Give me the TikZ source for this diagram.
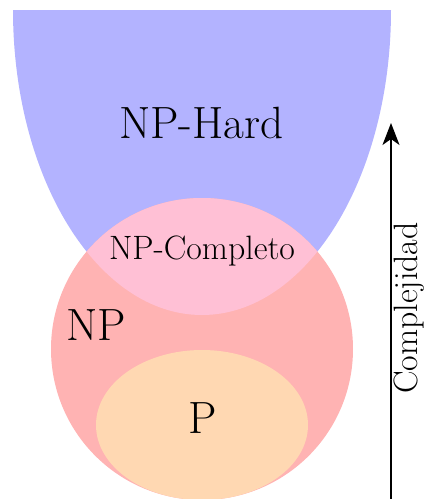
\documentclass[tikz,border=0pt]{standalone}
\usetikzlibrary{arrows.meta}
\definecolor{hardcol}{RGB}{179,179,255}
\definecolor{npcol}{RGB}{255,179,179}
\definecolor{npccol}{RGB}{255,192,213}
\definecolor{pcol}{RGB}{255,216,178}
\tikzset{
  bigtext/.style={font=\fontsize{22.6}{26}\selectfont, anchor=base, inner sep=0pt},
  midtext/.style={font=\fontsize{16.9}{20}\selectfont, anchor=base, inner sep=0pt},
  axisarrow/.style={line width=0.6pt, -{Stealth[length=11pt,width=8.5pt,inset=3pt]}}
}
\begin{document}
\begin{tikzpicture}[x=0.5pt,y=-0.5pt]
\useasboundingbox (0,0) rectangle (429,499);
% NP-Hard region
\begin{scope}
  \clip (0,10) rectangle (429,499);
  \fill[hardcol] (202,10) ellipse [x radius=189, y radius=305];
\end{scope}
% NP circle
\fill[npcol] (202,349) circle [radius=151];
% NP-Complete intersection
\begin{scope}
  \clip (202,349) circle [radius=151];
  \fill[npccol] (202,10) ellipse [x radius=189, y radius=305];
\end{scope}
% P ellipse
\fill[pcol] (202,425) ellipse [x radius=106, y radius=75];
% labels
\node[bigtext] (hard) at (201.5,138.3) {NP-Hard};
\node[midtext] (npc) at (202,259) {NP-Completo};
\node[bigtext] (np) at (96.5,340.7) {NP};
\node[bigtext] (p) at (203,433) {P};
% complexity axis
\coordinate (abot) at (391,499);
\coordinate (atop) at (391,123);
\draw[axisarrow] (abot) -- (atop);
\node[midtext, rotate=90] (cx) at (417,308) {Complejidad};
\end{tikzpicture}
\end{document}
